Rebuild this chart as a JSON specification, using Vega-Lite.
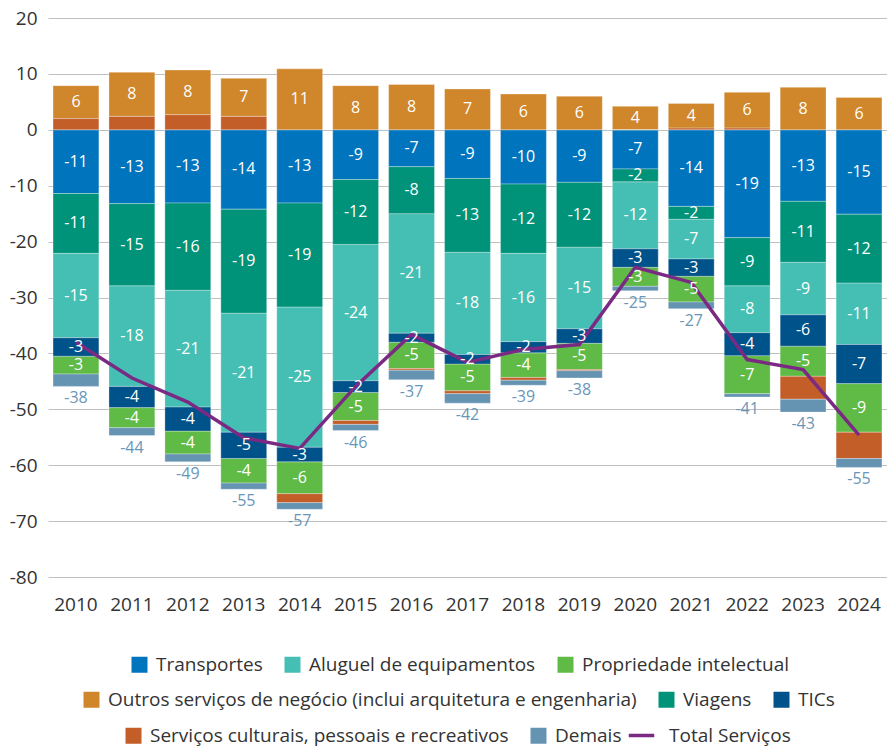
{
  "$schema": "https://vega.github.io/schema/vega-lite/v6.json",
  "width": 839,
  "height": 559,
  "autosize": {"type": "none"},
  "padding": {"left": 48, "top": 18, "right": 0, "bottom": 170},
  "background": "white",
  "data": {
    "values": [
      {"year": "2010", "cat": "Transportes", "value": -11.4},
      {"year": "2010", "cat": "Viagens", "value": -10.7},
      {"year": "2010", "cat": "Aluguel de equipamentos", "value": -15.1},
      {"year": "2010", "cat": "TICs", "value": -3.3},
      {"year": "2010", "cat": "Propriedade intelectual", "value": -3.2},
      {"year": "2010", "cat": "Serviços culturais, pessoais e recreativos", "value": 2.0},
      {"year": "2010", "cat": "Demais", "value": -2.2},
      {"year": "2010", "cat": "Outros serviços de negócio (inclui arquitetura e engenharia)", "value": 5.9},
      {"year": "2011", "cat": "Transportes", "value": -13.2},
      {"year": "2011", "cat": "Viagens", "value": -14.7},
      {"year": "2011", "cat": "Aluguel de equipamentos", "value": -18.0},
      {"year": "2011", "cat": "TICs", "value": -3.8},
      {"year": "2011", "cat": "Propriedade intelectual", "value": -3.6},
      {"year": "2011", "cat": "Serviços culturais, pessoais e recreativos", "value": 2.4},
      {"year": "2011", "cat": "Demais", "value": -1.4},
      {"year": "2011", "cat": "Outros serviços de negócio (inclui arquitetura e engenharia)", "value": 7.9},
      {"year": "2012", "cat": "Transportes", "value": -13.1},
      {"year": "2012", "cat": "Viagens", "value": -15.6},
      {"year": "2012", "cat": "Aluguel de equipamentos", "value": -20.9},
      {"year": "2012", "cat": "TICs", "value": -4.3},
      {"year": "2012", "cat": "Propriedade intelectual", "value": -4.1},
      {"year": "2012", "cat": "Serviços culturais, pessoais e recreativos", "value": 2.7},
      {"year": "2012", "cat": "Demais", "value": -1.4},
      {"year": "2012", "cat": "Outros serviços de negócio (inclui arquitetura e engenharia)", "value": 8.0},
      {"year": "2013", "cat": "Transportes", "value": -14.2},
      {"year": "2013", "cat": "Viagens", "value": -18.6},
      {"year": "2013", "cat": "Aluguel de equipamentos", "value": -21.3},
      {"year": "2013", "cat": "TICs", "value": -4.7},
      {"year": "2013", "cat": "Propriedade intelectual", "value": -4.4},
      {"year": "2013", "cat": "Serviços culturais, pessoais e recreativos", "value": 2.4},
      {"year": "2013", "cat": "Demais", "value": -1.1},
      {"year": "2013", "cat": "Outros serviços de negócio (inclui arquitetura e engenharia)", "value": 6.8},
      {"year": "2014", "cat": "Transportes", "value": -13.1},
      {"year": "2014", "cat": "Viagens", "value": -18.6},
      {"year": "2014", "cat": "Aluguel de equipamentos", "value": -25.1},
      {"year": "2014", "cat": "TICs", "value": -2.6},
      {"year": "2014", "cat": "Propriedade intelectual", "value": -5.7},
      {"year": "2014", "cat": "Serviços culturais, pessoais e recreativos", "value": -1.6},
      {"year": "2014", "cat": "Demais", "value": -1.2},
      {"year": "2014", "cat": "Outros serviços de negócio (inclui arquitetura e engenharia)", "value": 10.9},
      {"year": "2015", "cat": "Transportes", "value": -8.9},
      {"year": "2015", "cat": "Viagens", "value": -11.6},
      {"year": "2015", "cat": "Aluguel de equipamentos", "value": -24.4},
      {"year": "2015", "cat": "TICs", "value": -2.1},
      {"year": "2015", "cat": "Propriedade intelectual", "value": -5.0},
      {"year": "2015", "cat": "Serviços culturais, pessoais e recreativos", "value": -0.7},
      {"year": "2015", "cat": "Demais", "value": -1.1},
      {"year": "2015", "cat": "Outros serviços de negócio (inclui arquitetura e engenharia)", "value": 7.9},
      {"year": "2016", "cat": "Transportes", "value": -6.6},
      {"year": "2016", "cat": "Viagens", "value": -8.4},
      {"year": "2016", "cat": "Aluguel de equipamentos", "value": -21.4},
      {"year": "2016", "cat": "TICs", "value": -1.6},
      {"year": "2016", "cat": "Propriedade intelectual", "value": -4.7},
      {"year": "2016", "cat": "Serviços culturais, pessoais e recreativos", "value": -0.3},
      {"year": "2016", "cat": "Demais", "value": -1.7},
      {"year": "2016", "cat": "Outros serviços de negócio (inclui arquitetura e engenharia)", "value": 8.1},
      {"year": "2017", "cat": "Transportes", "value": -8.7},
      {"year": "2017", "cat": "Viagens", "value": -13.2},
      {"year": "2017", "cat": "Aluguel de equipamentos", "value": -18.3},
      {"year": "2017", "cat": "TICs", "value": -1.7},
      {"year": "2017", "cat": "Propriedade intelectual", "value": -4.8},
      {"year": "2017", "cat": "Serviços culturais, pessoais e recreativos", "value": -0.5},
      {"year": "2017", "cat": "Demais", "value": -1.7},
      {"year": "2017", "cat": "Outros serviços de negócio (inclui arquitetura e engenharia)", "value": 7.3},
      {"year": "2018", "cat": "Transportes", "value": -9.7},
      {"year": "2018", "cat": "Viagens", "value": -12.4},
      {"year": "2018", "cat": "Aluguel de equipamentos", "value": -15.8},
      {"year": "2018", "cat": "TICs", "value": -2.0},
      {"year": "2018", "cat": "Propriedade intelectual", "value": -4.4},
      {"year": "2018", "cat": "Serviços culturais, pessoais e recreativos", "value": -0.5},
      {"year": "2018", "cat": "Demais", "value": -0.9},
      {"year": "2018", "cat": "Outros serviços de negócio (inclui arquitetura e engenharia)", "value": 6.4},
      {"year": "2019", "cat": "Transportes", "value": -9.4},
      {"year": "2019", "cat": "Viagens", "value": -11.6},
      {"year": "2019", "cat": "Aluguel de equipamentos", "value": -14.6},
      {"year": "2019", "cat": "TICs", "value": -2.6},
      {"year": "2019", "cat": "Propriedade intelectual", "value": -4.7},
      {"year": "2019", "cat": "Serviços culturais, pessoais e recreativos", "value": -0.2},
      {"year": "2019", "cat": "Demais", "value": -1.3},
      {"year": "2019", "cat": "Outros serviços de negócio (inclui arquitetura e engenharia)", "value": 6.0},
      {"year": "2020", "cat": "Transportes", "value": -7.0},
      {"year": "2020", "cat": "Viagens", "value": -2.3},
      {"year": "2020", "cat": "Aluguel de equipamentos", "value": -12.0},
      {"year": "2020", "cat": "TICs", "value": -3.3},
      {"year": "2020", "cat": "Propriedade intelectual", "value": -3.4},
      {"year": "2020", "cat": "Serviços culturais, pessoais e recreativos", "value": 0.0},
      {"year": "2020", "cat": "Demais", "value": -0.8},
      {"year": "2020", "cat": "Outros serviços de negócio (inclui arquitetura e engenharia)", "value": 4.2},
      {"year": "2021", "cat": "Transportes", "value": -13.7},
      {"year": "2021", "cat": "Viagens", "value": -2.3},
      {"year": "2021", "cat": "Aluguel de equipamentos", "value": -7.1},
      {"year": "2021", "cat": "TICs", "value": -3.1},
      {"year": "2021", "cat": "Propriedade intelectual", "value": -4.6},
      {"year": "2021", "cat": "Serviços culturais, pessoais e recreativos", "value": 0.3},
      {"year": "2021", "cat": "Demais", "value": -1.2},
      {"year": "2021", "cat": "Outros serviços de negócio (inclui arquitetura e engenharia)", "value": 4.4},
      {"year": "2022", "cat": "Transportes", "value": -19.3},
      {"year": "2022", "cat": "Viagens", "value": -8.6},
      {"year": "2022", "cat": "Aluguel de equipamentos", "value": -8.4},
      {"year": "2022", "cat": "TICs", "value": -4.1},
      {"year": "2022", "cat": "Propriedade intelectual", "value": -6.8},
      {"year": "2022", "cat": "Serviços culturais, pessoais e recreativos", "value": 0.3},
      {"year": "2022", "cat": "Demais", "value": -0.6},
      {"year": "2022", "cat": "Outros serviços de negócio (inclui arquitetura e engenharia)", "value": 6.4},
      {"year": "2023", "cat": "Transportes", "value": -12.8},
      {"year": "2023", "cat": "Viagens", "value": -10.9},
      {"year": "2023", "cat": "Aluguel de equipamentos", "value": -9.4},
      {"year": "2023", "cat": "TICs", "value": -5.6},
      {"year": "2023", "cat": "Propriedade intelectual", "value": -5.4},
      {"year": "2023", "cat": "Serviços culturais, pessoais e recreativos", "value": -4.1},
      {"year": "2023", "cat": "Demais", "value": -2.3},
      {"year": "2023", "cat": "Outros serviços de negócio (inclui arquitetura e engenharia)", "value": 7.6},
      {"year": "2024", "cat": "Transportes", "value": -15.1},
      {"year": "2024", "cat": "Viagens", "value": -12.3},
      {"year": "2024", "cat": "Aluguel de equipamentos", "value": -11.0},
      {"year": "2024", "cat": "TICs", "value": -7.0},
      {"year": "2024", "cat": "Propriedade intelectual", "value": -8.7},
      {"year": "2024", "cat": "Serviços culturais, pessoais e recreativos", "value": -4.7},
      {"year": "2024", "cat": "Demais", "value": -1.6},
      {"year": "2024", "cat": "Outros serviços de negócio (inclui arquitetura e engenharia)", "value": 5.8}
    ]
  },
  "transform": [
    {"calculate": "indexof(['Transportes','Viagens','Aluguel de equipamentos','TICs','Propriedade intelectual','Serviços culturais, pessoais e recreativos','Demais','Outros serviços de negócio (inclui arquitetura e engenharia)'], datum.cat)", "as": "ord"},
    {"stack": "value", "groupby": ["year"], "sort": [{"field": "ord", "order": "ascending"}], "as": ["v0", "v1"]},
    {"calculate": "(datum.v0 + datum.v1) / 2", "as": "mid"},
    {"calculate": "'' + round(datum.value)", "as": "lbl"}
  ],
  "encoding": {
    "x": {
      "field": "year",
      "type": "nominal",
      "scale": {"paddingInner": 0.18, "paddingOuter": 0.09},
      "axis": {"title": null, "labelAngle": 0}
    }
  },
  "layer": [
    {
      "transform": [{"filter": {"field": "cat", "oneOf": ["Transportes", "Aluguel de equipamentos", "Propriedade intelectual"]}}],
      "mark": {"type": "bar", "stroke": "white", "strokeWidth": 0.6, "strokeOpacity": 0.5},
      "encoding": {
        "y": {
          "field": "v0",
          "type": "quantitative",
          "scale": {"domain": [-80, 20], "nice": false},
          "axis": {"title": null, "values": [-80, -70, -60, -50, -40, -30, -20, -10, 0, 10, 20], "labelExpr": "'' + datum.value"}
        },
        "y2": {"field": "v1"},
        "color": {
          "field": "cat",
          "type": "nominal",
          "scale": {"domain": ["Transportes", "Aluguel de equipamentos", "Propriedade intelectual"], "range": ["#0075be", "#45bfb4", "#60ba46"]},
          "legend": {"legendX": 82, "legendY": 637}
        }
      }
    },
    {
      "transform": [{"filter": {"field": "cat", "oneOf": ["Outros serviços de negócio (inclui arquitetura e engenharia)", "Viagens", "TICs"]}}],
      "mark": {"type": "bar", "stroke": "white", "strokeWidth": 0.6, "strokeOpacity": 0.5},
      "encoding": {
        "y": {"field": "v0", "type": "quantitative", "axis": {"title": null, "values": [-80, -70, -60, -50, -40, -30, -20, -10, 0, 10, 20], "labelExpr": "'' + datum.value"}},
        "y2": {"field": "v1"},
        "color": {
          "field": "cat",
          "type": "nominal",
          "scale": {"domain": ["Outros serviços de negócio (inclui arquitetura e engenharia)", "Viagens", "TICs"], "range": ["#d0862a", "#00937a", "#00538a"]},
          "legend": {"legendX": 34, "legendY": 672}
        }
      }
    },
    {
      "transform": [{"filter": {"field": "cat", "oneOf": ["Serviços culturais, pessoais e recreativos", "Demais"]}}],
      "mark": {"type": "bar", "stroke": "white", "strokeWidth": 0.6, "strokeOpacity": 0.5},
      "encoding": {
        "y": {"field": "v0", "type": "quantitative", "axis": {"title": null, "values": [-80, -70, -60, -50, -40, -30, -20, -10, 0, 10, 20], "labelExpr": "'' + datum.value"}},
        "y2": {"field": "v1"},
        "color": {
          "field": "cat",
          "type": "nominal",
          "scale": {"domain": ["Serviços culturais, pessoais e recreativos", "Demais"], "range": ["#c35e28", "#6594b3"]},
          "legend": {"legendX": 76, "legendY": 708}
        }
      }
    },
    {
      "transform": [{"aggregate": [{"op": "sum", "field": "value", "as": "total"}], "groupby": ["year"]}],
      "mark": {"type": "line", "strokeWidth": 3.5},
      "encoding": {
        "y": {"field": "total", "type": "quantitative", "axis": {"title": null, "values": [-80, -70, -60, -50, -40, -30, -20, -10, 0, 10, 20], "labelExpr": "'' + datum.value"}},
        "color": {
          "datum": "Total Serviços",
          "scale": {"domain": ["Total Serviços"], "range": ["#7b2a83"]},
          "legend": {"legendX": 579, "legendY": 703, "symbolType": "stroke", "symbolSize": 650, "symbolStrokeWidth": 3.5, "labelOffset": 13}
        }
      }
    },
    {
      "transform": [{"filter": {"field": "cat", "oneOf": ["Transportes", "Aluguel de equipamentos", "Propriedade intelectual", "Outros serviços de negócio (inclui arquitetura e engenharia)", "Viagens", "TICs"]}}],
      "mark": {"type": "text", "color": "white", "fontSize": 16, "font": "Open Sans", "baseline": "middle"},
      "encoding": {
        "y": {"field": "mid", "type": "quantitative", "axis": {"title": null, "values": [-80, -70, -60, -50, -40, -30, -20, -10, 0, 10, 20], "labelExpr": "'' + datum.value"}},
        "text": {"field": "lbl"}
      }
    },
    {
      "transform": [
        {"aggregate": [{"op": "sum", "field": "value", "as": "total"}, {"op": "min", "field": "v1", "as": "bottom"}], "groupby": ["year"]},
        {"calculate": "'' + round(datum.total)", "as": "tl"}
      ],
      "mark": {"type": "text", "color": "#6a96b7", "fontSize": 16, "font": "Open Sans", "baseline": "top", "dy": 4},
      "encoding": {
        "y": {"field": "bottom", "type": "quantitative", "axis": {"title": null, "values": [-80, -70, -60, -50, -40, -30, -20, -10, 0, 10, 20], "labelExpr": "'' + datum.value"}},
        "text": {"field": "tl"}
      }
    }
  ],
  "resolve": {"scale": {"color": "independent"}, "legend": {"color": "independent"}},
  "config": {
    "font": "Open Sans",
    "view": {"stroke": null},
    "axis": {"labelFont": "Open Sans", "labelFontSize": 19, "labelColor": "#333333", "ticks": false, "domain": false, "title": null},
    "axisY": {"grid": true, "gridColor": "#c0c0c0", "gridWidth": 1.2, "labelPadding": 11},
    "axisX": {"grid": false, "labelPadding": 18},
    "legend": {
      "orient": "none",
      "direction": "horizontal",
      "title": null,
      "labelFont": "Open Sans",
      "labelFontSize": 19,
      "labelColor": "#333333",
      "symbolType": "square",
      "symbolSize": 256,
      "symbolStrokeWidth": 0,
      "symbolOpacity": 1,
      "columnPadding": 20,
      "labelOffset": 7,
      "labelLimit": 800
    }
  }
}
